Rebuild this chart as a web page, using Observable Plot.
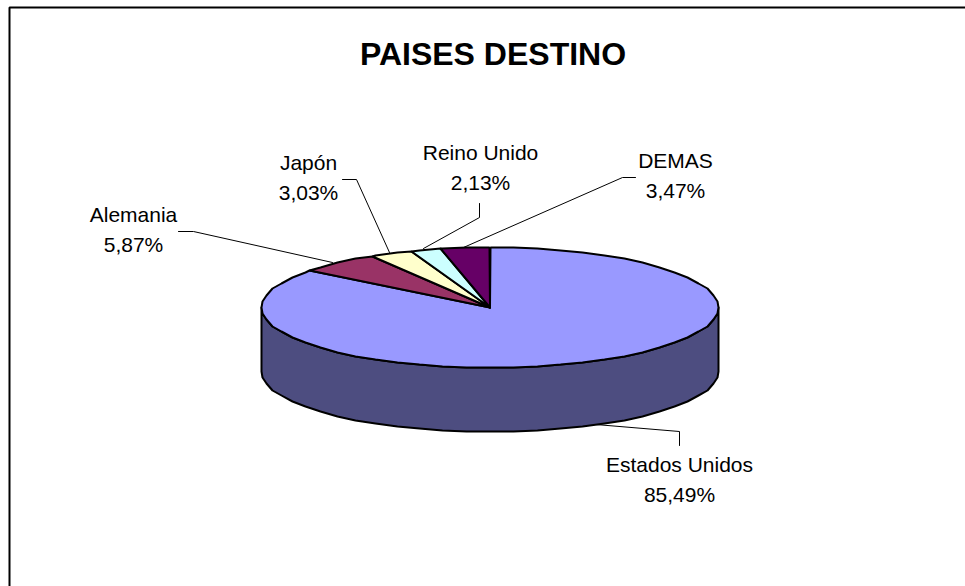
<!DOCTYPE html>
<html>
<head>
<meta charset="utf-8">
<script src="https://cdn.jsdelivr.net/npm/d3@7"></script>
<script src="https://cdn.jsdelivr.net/npm/@observablehq/plot@0.6"></script>
<style>
html,body{margin:0;padding:0;background:#fff}
svg{display:block}
</style>
</head>
<body>
<div id="chart"></div>
<script>
// Data, clockwise from 12 o'clock
const categories = ["Estados Unidos", "Alemania", "Japón", "Reino Unido", "DEMAS"];
const shares = [85.49, 5.87, 3.03, 2.13, 3.47];
const sliceColors = ["#9999FF", "#993366", "#FFFFCC", "#CCFFFF", "#660066"];
const wallColor = "#4D4D80";
const titleText = "PAISES DESTINO";

// Layout (frame units are the page's pixels)
const W = 965, H = 586;
const pie = {cx: 489.5, cy: 307, rx: 228.5, ry: 60, depth: 64, step: 6};
const labelX = [679, 133, 308, 480, 675];
const labelBaseline = [501, 251, 199, 189, 197];
const leaders = [
  [[679, 445], [679, 431], [595, 424]],
  [[178, 231], [193, 231], [332, 262]],
  [[342, 179], [356, 179], [389, 252]],
  [[479, 203], [479, 217], [423, 248]],
  [[635, 177], [622, 177], [463, 247]]
];
const frame = [[9, 586], [9, 7], [965, 7]];

// Ellipse point at a share-of-turn angle (degrees clockwise from the top)
const pt = (deg, dy = 0) => {
  const a = deg * Math.PI / 180;
  return [Math.round(pie.cx + pie.rx * Math.sin(a)), Math.round(pie.cy - pie.ry * Math.cos(a)) + dy];
};
const arc = (a0, a1, dy = 0) => {
  const out = [];
  const first = Math.ceil(a0 / pie.step) * pie.step;
  out.push(pt(a0, dy));
  for (let d = first; d < a1; d += pie.step) if (d > a0) out.push(pt(d, dy));
  out.push(pt(a1, dy));
  return out;
};

const total = d3.sum(shares);
let cum = 0;
const slices = shares.map((v, i) => {
  const a0 = cum / total * 360;
  cum += v;
  const a1 = cum / total * 360;
  return [[pie.cx, pie.cy], ...arc(a0, a1), [pie.cx, pie.cy]];
});
const wall = [...arc(90, 270), ...arc(90, 270, pie.depth).reverse()];
wall.push(wall[0]);

const poly = (pts, o) => Plot.line(pts, {x: d => d[0], y: d => d[1], curve: "linear", ...o});

const labels = categories.map((c, i) => ({
  x: labelX[i], y: labelBaseline[i],
  text: c + "\n" + shares[i].toFixed(2).replace(".", ",") + "%"
}));

const chart = Plot.plot({
  width: W, height: H,
  margin: 0,
  x: {domain: [0, W], axis: null},
  y: {domain: [H, 0], axis: null},
  style: {background: "#fff"},
  marks: [
    poly(frame, {stroke: "#000", strokeWidth: 2, strokeLinejoin: "miter"}),
    poly(wall, {fill: wallColor, stroke: "#000", strokeWidth: 2, strokeLinejoin: "round"}),
    ...slices.map((s, i) => poly(s, {fill: sliceColors[i], stroke: "#000", strokeWidth: 2, strokeLinejoin: "miter"})),
    ...leaders.map(l => poly(l, {stroke: "#000", strokeWidth: 1, strokeLinejoin: "miter"})),
    Plot.text(labels, {x: "x", y: "y", text: "text", fontSize: 21, lineHeight: 30 / 21, lineAnchor: "bottom",
      textAnchor: "middle", fontFamily: "'Liberation Sans', Arial, sans-serif", fill: "#000"}),
    Plot.text([titleText], {x: () => 492.5, y: () => 64, text: d => d, fontSize: 32, fontWeight: "bold", lineAnchor: "bottom",
      textAnchor: "middle", fontFamily: "'Liberation Sans', Arial, sans-serif", fill: "#000"})
  ]
});
document.getElementById("chart").appendChild(chart);
</script>
</body>
</html>
